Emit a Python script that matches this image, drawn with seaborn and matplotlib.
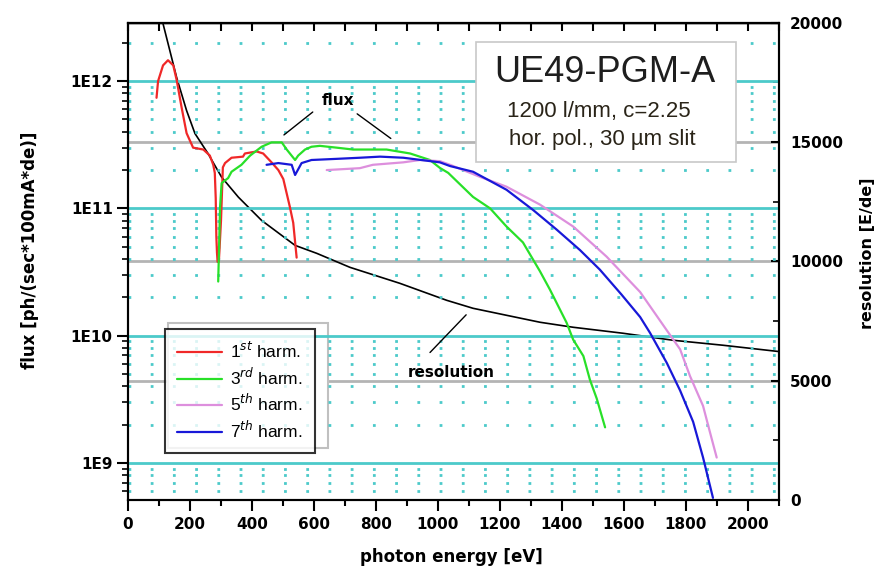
import numpy as np
import pandas as pd
import matplotlib
matplotlib.use("Agg")
import matplotlib.pyplot as plt
import matplotlib.ticker as mticker
from matplotlib.patches import Rectangle
import seaborn as sns

# photon energy [eV] and flux [ph/(sec*100mA*de)] per harmonic
h1_energy = [92, 97, 113, 129, 146, 157, 173, 189, 210, 243, 264, 275, 280, 283, 285,
             287, 289, 293, 300, 306, 313, 334, 371, 377, 415, 436, 463, 485, 501,
             522, 533, 544]
h1_flux = [7.4e11, 1.0e12, 1.33e12, 1.46e12, 1.33e12, 1.02e12, 6.2e11, 3.9e11, 3.0e11,
           2.9e11, 2.6e11, 2.2e11, 1.9e11, 1.2e11, 6e10, 4.5e10, 3.8e10, 3.8e10, 8e10,
           2.1e11, 2.27e11, 2.5e11, 2.55e11, 2.7e11, 2.8e11, 2.7e11, 2.3e11, 2.0e11,
           1.7e11, 1.03e11, 7.7e10, 4.1e10]

h3_energy = [291, 297, 302, 323, 334, 366, 394, 431, 463, 496, 512, 539, 549, 571, 592,
             619, 673, 726, 834, 910, 974, 1006, 1033, 1113, 1168, 1221, 1274, 1329,
             1361, 1415, 1436, 1469, 1490, 1512, 1539]
h3_flux = [2.66e10, 1.03e11, 1.58e11, 1.73e11, 1.94e11, 2.2e11, 2.6e11, 3.05e11, 3.3e11,
           3.3e11, 2.9e11, 2.4e11, 2.6e11, 2.9e11, 3.05e11, 3.1e11, 3.0e11, 2.9e11,
           2.9e11, 2.7e11, 2.4e11, 2.08e11, 1.9e11, 1.23e11, 1.0e11, 7.2e10, 5.4e10,
           3.2e10, 2.3e10, 1.26e10, 9.3e9, 6.9e9, 4.5e9, 3.2e9, 1.9e9]

h5_energy = [641, 748, 790, 888, 942, 1006, 1039, 1135, 1221, 1329, 1436, 1544, 1652,
             1738, 1781, 1813, 1855, 1877, 1899]
h5_flux = [2.0e11, 2.07e11, 2.2e11, 2.3e11, 2.4e11, 2.35e11, 2.2e11, 1.77e11, 1.48e11,
           1.07e11, 7.2e10, 4.17e10, 2.2e10, 1.1e10, 7.8e9, 4.8e9, 2.8e9, 1.75e9, 1.1e9]

h7_energy = [447, 485, 528, 539, 560, 592, 673, 748, 813, 888, 1006, 1039, 1113, 1221,
             1307, 1383, 1458, 1522, 1592, 1652, 1684, 1738, 1781, 1823, 1855, 1887]
h7_flux = [2.2e11, 2.27e11, 2.2e11, 1.83e11, 2.27e11, 2.4e11, 2.45e11, 2.5e11, 2.55e11,
           2.5e11, 2.3e11, 2.15e11, 1.94e11, 1.4e11, 9.7e10, 6.8e10, 4.7e10, 3.3e10,
           2.1e10, 1.4e10, 1.05e10, 6.1e9, 3.7e9, 2.1e9, 1.1e9, 5.3e8]

res_energy = [100, 113, 135, 157, 189, 216, 258, 302, 356, 431, 539, 609, 716, 877,
              1028, 1113, 1221, 1329, 1436, 1597, 1758, 1919, 2100]
resolution = [20620, 19958, 18828, 17699, 16318, 15356, 14519, 13527, 12691, 11715,
              10669, 10335, 9749, 9079, 8368, 8033, 7740, 7448, 7238, 6987, 6694, 6485,
              6220]

harm_labels = [r"1$^{st}$ harm.", r"3$^{rd}$ harm.", r"5$^{th}$ harm.", r"7$^{th}$ harm."]
harm_colors = ["#f02828", "#28e028", "#dd8fdd", "#1818d8"]

sns.set_theme(style="white")
plt.rcParams["font.family"] = ["DejaVu Sans"]
for key in ("text.color", "axes.labelcolor", "xtick.color", "ytick.color"):
    plt.rcParams[key] = "black"

cyan = "#4ccaca"
gray = "#b4b4b4"

fig = plt.figure(figsize=(8.81, 5.85), dpi=100)
ax = fig.add_axes([128 / 881, 85 / 585, 651 / 881, 477.3 / 585])
ax2 = ax.twinx()

# resolution on right axis (drawn behind the flux curves)
sns.lineplot(x=res_energy, y=resolution, ax=ax2, color="black", linewidth=1.2,
             estimator=None, legend=False)

series = [(h1_energy, h1_flux), (h3_energy, h3_flux), (h5_energy, h5_flux), (h7_energy, h7_flux)]
for (xe, yf), lab, col in zip(series, harm_labels, harm_colors):
    sns.lineplot(x=xe, y=yf, ax=ax, color=col, linewidth=1.6, label=lab, estimator=None)

ax.set_yscale("log")
ax.set_xlim(0, 2100)
ax.set_ylim(5.1e8, 2.88e12)
ax2.set_ylim(0, 20000)

ax.set_zorder(ax2.get_zorder() + 1)
ax.patch.set_visible(False)

# grids
ax.yaxis.set_major_locator(mticker.LogLocator(base=10, numticks=10))
ax.yaxis.set_minor_locator(mticker.LogLocator(base=10, subs=np.arange(2, 10), numticks=20))
ax.yaxis.set_minor_formatter(mticker.NullFormatter())
ax.yaxis.set_major_formatter(mticker.FuncFormatter(lambda v, p: f"1E{int(round(np.log10(v)))}"))
ax.grid(False)
ax.yaxis.grid(True, which="major", color=cyan, linewidth=2, linestyle="-")
ax.yaxis.grid(True, which="minor", color=cyan, linewidth=2, linestyle=(0, (1, 7)))
ax.set_axisbelow(True)

ax2.yaxis.set_major_locator(mticker.MultipleLocator(5000))
ax2.yaxis.set_minor_locator(mticker.MultipleLocator(2500))
ax2.grid(False)
ax2.yaxis.grid(True, which="major", color=gray, linewidth=2)

ax.xaxis.set_major_locator(mticker.MultipleLocator(200))
ax.xaxis.set_minor_locator(mticker.MultipleLocator(100))

ax.tick_params(axis="x", which="major", direction="out", length=8, width=1.5,
               bottom=True, top=False, labelsize=11, pad=4)
ax.tick_params(axis="x", which="minor", direction="out", length=4, width=1.5,
               bottom=True, top=False)
ax.tick_params(axis="y", which="major", direction="out", length=8, width=1.5,
               left=True, labelsize=11, pad=3)
ax.tick_params(axis="y", which="minor", direction="out", length=4, width=1.2, left=True)
ax2.tick_params(axis="y", which="major", direction="in", length=6, width=1.5,
                right=True, labelsize=11, pad=8)
ax2.tick_params(axis="y", which="minor", direction="in", length=4, width=1.2, right=True)
for lab in ax.get_xticklabels() + ax.get_yticklabels() + ax2.get_yticklabels():
    lab.set_fontweight("bold")

top = ax.secondary_xaxis("top")
top.xaxis.set_major_locator(mticker.MultipleLocator(100))
top.tick_params(axis="x", direction="in", length=6, width=1.5, labeltop=False)

for a in (ax, ax2):
    for sp in a.spines.values():
        sp.set_color("black")
        sp.set_linewidth(1.5)
for sp in top.spines.values():
    sp.set_linewidth(1.5)

ax.set_xlabel("photon energy [eV]", fontsize=12, fontweight="bold")
ax.xaxis.set_label_coords(0.496, -0.101)
ax.set_ylabel("flux [ph/(sec*100mA*de)]", fontsize=12, fontweight="bold")
ax.yaxis.set_label_coords(-0.136, 0.524)
ax2.set_ylabel("resolution [E/de]", fontsize=11.5, fontweight="bold", rotation=90)
ax2.yaxis.set_label_coords(1.124, 0.516)

# annotations
ax.text(677, 7.1e11, "flux", fontsize=11, fontweight="bold", ha="center", va="center")
ax.annotate("", xy=(496, 3.66e11), xytext=(603, 5.9e11),
            arrowprops=dict(arrowstyle="-", color="black", lw=1))
ax.annotate("", xy=(855, 3.44e11), xytext=(732, 5.7e11),
            arrowprops=dict(arrowstyle="-", color="black", lw=1))
ax.text(1042, 5.1e9, "resolution", fontsize=11, fontweight="bold", ha="center", va="center")
ax.annotate("", xy=(1097, 1.51e10), xytext=(968, 7.1e9),
            arrowprops=dict(arrowstyle="-", color="black", lw=1))

# legend with offset shadow frame
leg = ax.legend(loc="upper left", bbox_to_anchor=(0.057, 0.358), frameon=True,
                fancybox=False, fontsize=12.5, handlelength=2.6, handletextpad=0.45,
                labelspacing=0.3, borderpad=0.7, borderaxespad=0)
leg.get_frame().set_edgecolor("black")
leg.get_frame().set_linewidth(1.5)
leg.set_zorder(10)
for t in leg.get_texts():
    t.set_family(["Liberation Sans", "DejaVu Sans"])
fig.patches.append(Rectangle((168 / 881, (585 - 448) / 585), 160 / 881, 125 / 585,
                             transform=fig.transFigure, facecolor="white",
                             edgecolor="#c0c0c0", linewidth=1.5, zorder=0.5))

# title box
fig.patches.append(Rectangle((476 / 881, (585 - 162) / 585), 260 / 881, 120 / 585,
                             transform=fig.transFigure, facecolor="white",
                             edgecolor="#c8c8c8", linewidth=1.2, zorder=5))
box_font = ["Liberation Sans", "DejaVu Sans"]
fig.text(605 / 881, 1 - 72 / 585, "UE49-PGM-A", fontsize=26, ha="center", va="center",
         family=box_font, color="#1e1e1e", zorder=6)
fig.text(599 / 881, 1 - 111 / 585, "1200 l/mm, c=2.25", fontsize=16, ha="center",
         va="center", family=box_font, color="#2a2418", zorder=6)
fig.text(602 / 881, 1 - 140 / 585, "hor. pol., 30 \u00b5m slit", fontsize=16, ha="center",
         va="center", family=box_font, color="#2a2418", zorder=6)

fig.savefig("out.png", dpi=100)
